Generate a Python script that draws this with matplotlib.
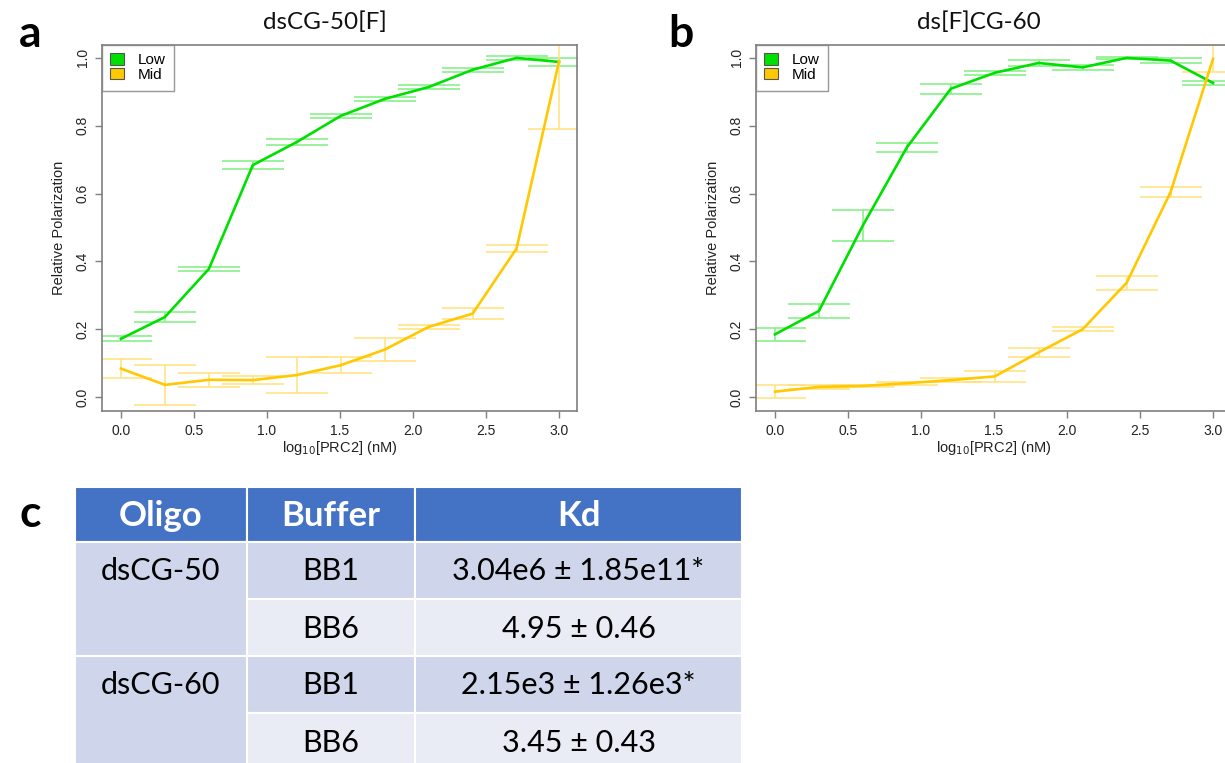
import matplotlib
matplotlib.use("Agg")
import matplotlib.pyplot as plt
from matplotlib.patches import Rectangle, Patch

# log10 of PRC2 concentration (nM)
log_conc = [0.0, 0.301, 0.602, 0.903, 1.204, 1.505, 1.806, 2.107, 2.408, 2.709, 3.0]

# panel a: dsCG-50[F]
a_low = [0.172, 0.236, 0.378, 0.684, 0.752, 0.829, 0.879, 0.914, 0.965, 1.0, 0.988]
a_low_err = [0.007, 0.015, 0.006, 0.011, 0.008, 0.005, 0.005, 0.005, 0.006, 0.006, 0.012]
a_mid = [0.084, 0.036, 0.051, 0.050, 0.065, 0.094, 0.140, 0.207, 0.246, 0.438, 0.99]
a_mid_err = [0.028, 0.060, 0.020, 0.012, 0.053, 0.024, 0.034, 0.007, 0.016, 0.010, 0.20]

# panel b: ds[F]CG-60
b_low = [0.185, 0.254, 0.506, 0.736, 0.909, 0.956, 0.985, 0.972, 1.0, 0.992, 0.926]
b_low_err = [0.020, 0.020, 0.046, 0.013, 0.015, 0.005, 0.008, 0.007, 0.004, 0.008, 0.005]
b_mid = [0.016, 0.030, 0.033, 0.041, 0.050, 0.061, 0.132, 0.200, 0.337, 0.604, 0.997]
b_mid_err = [0.019, 0.007, 0.003, 0.004, 0.006, 0.017, 0.014, 0.006, 0.020, 0.015, 0.040]

series_names = ["Low", "Mid"]

# panel c table
table_header = ["Oligo", "Buffer", "Kd"]
oligos = ["dsCG-50", "dsCG-60"]
buffers = ["BB1", "BB6", "BB1", "BB6"]
kd_values = ["3.04e6 \u00b1 1.85e11*", "4.95 \u00b1 0.46", "2.15e3 \u00b1 1.26e3*", "3.45 \u00b1 0.43"]

W, H = 1225, 763
fig = plt.figure(figsize=(W / 100, H / 100), dpi=100)
plt.rcParams["font.family"] = ["Liberation Sans", "DejaVu Sans"]

GREEN = "#00E000"
GREEN_ERR = "#80F080"
GOLD = "#FFC800"
GOLD_ERR = "#FFE27A"
BOX = "#7F7F7F"
TXT = "#222222"


def px_axes(left, top, right, bottom):
    return fig.add_axes([left / W, 1 - bottom / H, (right - left) / W, (bottom - top) / H])


def draw_panel(ax, low, low_err, mid, mid_err, title, title_x):
    ax.errorbar(log_conc, low, yerr=low_err, fmt="none", ecolor=GREEN_ERR, elinewidth=1.1,
                capsize=22, capthick=1.1, zorder=2)
    ax.errorbar(log_conc, mid, yerr=mid_err, fmt="none", ecolor=GOLD_ERR, elinewidth=1.1,
                capsize=22, capthick=1.1, zorder=2)
    ax.plot(log_conc, low, color=GREEN, linewidth=1.9, zorder=3)
    ax.plot(log_conc, mid, color=GOLD, linewidth=1.9, zorder=3)
    ax.set_xlim(-0.13, 3.123)
    ax.set_ylim(-0.041, 1.038)
    ax.set_xticks([0.0, 0.5, 1.0, 1.5, 2.0, 2.5, 3.0])
    ax.set_yticks([0.0, 0.2, 0.4, 0.6, 0.8, 1.0])
    ax.set_xticklabels(["0.0", "0.5", "1.0", "1.5", "2.0", "2.5", "3.0"])
    ax.set_yticklabels(["0.0", "0.2", "0.4", "0.6", "0.8", "1.0"], rotation=90, va="center")
    ax.tick_params(direction="out", length=5, width=1, color=BOX, labelsize=10,
                   labelcolor=TXT, pad=4)
    for side in ax.spines.values():
        side.set_color(BOX)
        side.set_linewidth(1.2)
    ax.set_xlabel("log$_{10}$[PRC2] (nM)", fontsize=10.5, color=TXT, labelpad=1)
    ax.set_ylabel("Relative Polarization", fontsize=10.5, color=TXT, labelpad=7)
    handles = [Patch(facecolor=GREEN, edgecolor="#555555", linewidth=0.8),
               Patch(facecolor=GOLD, edgecolor="#555555", linewidth=0.8)]
    leg = ax.legend(handles, series_names, loc="upper left", bbox_to_anchor=(0, 1),
                    fontsize=11, frameon=True, fancybox=False, borderaxespad=0,
                    handlelength=0.9, handleheight=0.75, handletextpad=0.9,
                    labelspacing=0.05, borderpad=0.55)
    leg.get_frame().set_edgecolor(BOX)
    leg.get_frame().set_linewidth(1.0)
    fig.text(title_x / W, 1 - 22 / H, title, fontsize=17.5, family="Lato",
             ha="center", va="center", color="#111111")


ax_a = px_axes(102, 45, 577, 411)
draw_panel(ax_a, a_low, a_low_err, a_mid, a_mid_err, "dsCG-50[F]", 325)
ax_b = px_axes(756, 45, 1231, 411)
draw_panel(ax_b, b_low, b_low_err, b_mid, b_mid_err, "ds[F]CG-60", 979)

for letter, x, y in [("a", 30, 34), ("b", 681, 34), ("c", 30, 514)]:
    fig.text(x / W, 1 - y / H, letter, fontsize=32, fontweight="bold", family="Lato",
             ha="center", va="center", color="black")

# table drawn in pixel coordinates
tab = fig.add_axes([0, 0, 1, 1])
tab.set_xlim(0, W)
tab.set_ylim(H, 0)
tab.axis("off")

col_edges = [75, 247, 415, 742]
row_edges = [487, 542, 599, 656, 713, 770]
HEAD = "#4472C4"
DARK = "#CFD5EA"
LIGHT = "#E9EBF5"

for i, name in enumerate(table_header):
    tab.add_patch(Rectangle((col_edges[i], row_edges[0]), col_edges[i + 1] - col_edges[i],
                            row_edges[1] - row_edges[0], facecolor=HEAD, edgecolor="white",
                            linewidth=1.5))
    tab.text((col_edges[i] + col_edges[i + 1]) / 2, (row_edges[0] + row_edges[1]) / 2 + 1, name,
             fontsize=25, fontweight="bold", color="white", family="Lato", ha="center", va="center")

for g, oligo in enumerate(oligos):
    top = row_edges[1 + 2 * g]
    bottom = row_edges[3 + 2 * g]
    tab.add_patch(Rectangle((col_edges[0], top), col_edges[1] - col_edges[0], bottom - top,
                            facecolor=DARK, edgecolor="white", linewidth=1.5))
    tab.text((col_edges[0] + col_edges[1]) / 2, (top + row_edges[2 + 2 * g]) / 2 + 1, oligo,
             fontsize=22, color="black", family="Lato", ha="center", va="center")

for r, (buf, kd) in enumerate(zip(buffers, kd_values)):
    top = row_edges[1 + r]
    bottom = row_edges[2 + r]
    shade = DARK if r % 2 == 0 else LIGHT
    for c, txt in [(1, buf), (2, kd)]:
        tab.add_patch(Rectangle((col_edges[c], top), col_edges[c + 1] - col_edges[c], bottom - top,
                                facecolor=shade, edgecolor="white", linewidth=1.5))
        tab.text((col_edges[c] + col_edges[c + 1]) / 2, (top + bottom) / 2 + 1, txt,
                 fontsize=22, color="black", family="Lato", ha="center", va="center")

fig.savefig("out.png", dpi=100)
